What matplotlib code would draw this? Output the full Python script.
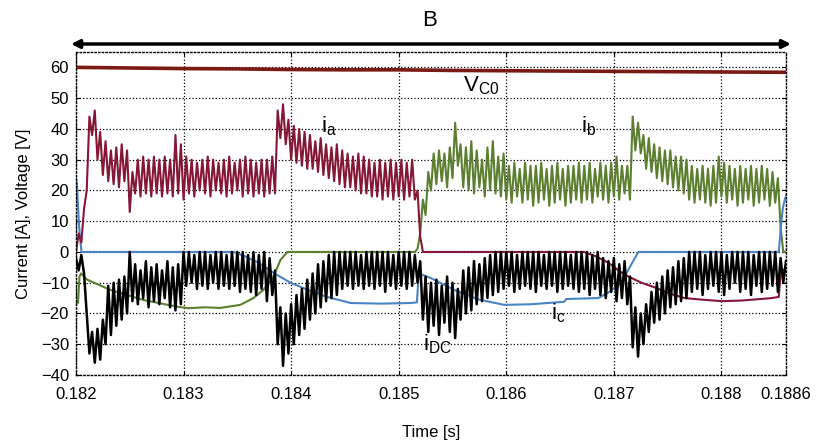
import numpy as np
import matplotlib.pyplot as plt

plt.rcParams['font.family'] = ['Liberation Sans', 'DejaVu Sans']
plt.rcParams['mathtext.fontset'] = 'custom'
plt.rcParams['mathtext.rm'] = 'Liberation Sans'
plt.rcParams['mathtext.it'] = 'Liberation Sans'

# sampled waveforms: one value every half switching period (25 us) from t0
t0 = 0.182
dt = 25e-6

# i_DC, samples k = 0..264
i_dc = [
    -2, -6, -1, -7, -20, -33, -26, -36, -25, -35, -22, -30, -11, -27, -10, -24, -9, -22, -8, -20,
    0, -16, -4, -17, -6, -15, -3, -18, -5, -16, -4, -17, -6, -15, -3, -18, -5, -19, -4, -17,
    0, -11, 0, -10, -1, -12, 0, -11, 0, -12, -1, -10, 0, -12, 0, -11, -1, -12, 0, -11,
    0, -13, 0, -12, -1, -13, 0, -14, -1, -12, 0, -16, -2, -14, -6, -30, -18, -37, -20, -33,
    -17, -30, -14, -27, -12, -25, -9, -22, -7, -20, -4, -18, -3, -16, -1, -15, 0, -14, 0, -12,
    0, -11, 0, -12, 0, -11, -1, -12, 0, -11, 0, -12, 0, -11, 0, -13, 0, -11, -1, -12,
    0, -11, 0, -12, 0, -11, -1, -10, -3, -22, -8, -26, -10, -24, -9, -27, -11, -23, -8, -26,
    -10, -28, -12, -22, -6, -20, -5, -19, -3, -17, -4, -16, -2, -15, -1, -14, 0, -13, 0, -12,
    0, -11, 0, -13, -1, -12, 0, -11, 0, -12, 0, -13, 0, -11, -1, -12, 0, -11, 0, -13,
    0, -12, 0, -11, -1, -12, 0, -13, 0, -12, 0, -14, -1, -12, 0, -14, -2, -15, -3, -13,
    -2, -16, -4, -15, -3, -17, -8, -31, -18, -34, -20, -30, -17, -26, -13, -23, -10, -22, -8, -20,
    -6, -18, -5, -17, -3, -16, -2, -15, 0, -13, 0, -12, 0, -14, -1, -12, 0, -11, 0, -13,
    0, -14, -1, -12, 0, -10, 0, -13, 0, -12, 0, -14, -1, -11, 0, -13, 0, -12, 0, -11,
    0, -13, -2, -10, -3,
]

# i_a ripple part, samples k = 0..129
i_a_ripple = [
    0, 6, 3, 14, 20, 44, 38, 46, 30, 39, 25, 36, 23, 33, 22, 34, 21, 35, 23, 33,
    13, 26, 19, 30, 18, 31, 19, 30, 18, 31, 19, 30, 18, 31, 19, 30, 18, 38, 19, 35,
    17, 31, 19, 30, 18, 29, 20, 30, 19, 31, 18, 30, 20, 29, 19, 30, 18, 31, 19, 29,
    20, 30, 18, 31, 19, 30, 18, 29, 19, 30, 18, 30, 19, 31, 19, 46, 37, 48, 35, 43,
    30, 41, 29, 40, 28, 39, 27, 38, 27, 36, 26, 37, 25, 35, 24, 34, 23, 35, 22, 33,
    21, 32, 21, 31, 20, 32, 19, 31, 19, 30, 18, 29, 18, 30, 17, 29, 18, 30, 17, 29,
    18, 30, 17, 29, 18, 30, 17, 20, 5, 0,
]

# i_a slow part after commutation
i_a_t = [0.185225, 0.186725, 0.186837, 0.186949, 0.187042, 0.187135, 0.187256, 0.187378,
         0.187517, 0.187657, 0.187815, 0.188002, 0.188188, 0.188328, 0.188468, 0.188533,
         0.188552, 0.188617]
i_a_v = [0, 0, -1.5, -3.5, -6, -8, -10, -11.5, -13.5, -15, -15.5, -16, -15.8, -15.4, -15,
         -14.6, -6, -5.5]

# i_b slow part before commutation
i_b_t = [0.182000, 0.182019, 0.182033, 0.182047, 0.182103, 0.182317, 0.182624, 0.182941,
         0.183044, 0.183202, 0.183342, 0.183528, 0.183650, 0.183743, 0.183836, 0.183901,
         0.183966, 0.185150]
i_b_v = [-17, -16.5, -8, -7, -9, -12.3, -15.6, -17.8, -18.3, -18, -18.2, -17.2, -15, -12.3,
         -8, -2.6, 0, 0]

# i_b ripple part, samples k = 126..264
k_b0 = 126
i_b_ripple = [
    0, 1, 6, 17, 12, 26, 20, 32, 22, 33, 23, 32, 21, 34, 24, 42, 28, 35, 21, 34,
    20, 36, 19, 33, 21, 30, 18, 34, 20, 36, 19, 31, 18, 32, 17, 28, 16, 29, 18, 27,
    16, 29, 17, 28, 15, 28, 16, 29, 17, 27, 15, 28, 16, 29, 17, 27, 15, 28, 16, 28,
    17, 29, 16, 28, 17, 29, 16, 27, 18, 29, 17, 28, 16, 29, 18, 31, 17, 28, 19, 28,
    17, 44, 33, 42, 32, 38, 27, 37, 26, 35, 24, 34, 23, 33, 22, 33, 21, 31, 20, 31,
    19, 30, 17, 28, 16, 27, 17, 28, 16, 27, 15, 28, 16, 31, 18, 29, 16, 28, 17, 27,
    15, 28, 16, 27, 17, 28, 15, 27, 16, 28, 17, 27, 15, 26, 16, 24, 8, 0, 0,
]

# i_c
i_c_t = [0.182000, 0.182009, 0.182019, 0.182028, 0.182037, 0.182051, 0.183463, 0.183575,
         0.183696, 0.183836, 0.183994, 0.184153, 0.184321, 0.184554, 0.184833, 0.185113,
         0.185169, 0.185187, 0.185299, 0.185513, 0.185747, 0.185980, 0.186231, 0.186539,
         0.186557, 0.186856, 0.186958, 0.187070, 0.187163, 0.187228, 0.188533, 0.188552,
         0.188570, 0.188589, 0.188617]
i_c_v = [24, 22, 15, 9, 5, 0, 0, -1.5, -3.5, -6.8, -10, -12.3, -14.5, -16.6, -16.8, -16.6,
         -16.4, -7, -8.5, -12.3, -15.5, -17.2, -17, -16.2, -15.3, -15, -13, -10, -4, 0, 0,
         8, 14, 17, 20]

# capacitor voltage
v_c0_t = [0.182, 0.1825, 0.183, 0.1835, 0.184, 0.1845, 0.185, 0.1855, 0.186, 0.1865,
          0.187, 0.1875, 0.188, 0.1886]
v_c0_v = [60.0, 59.8, 59.6, 59.5, 59.3, 59.2, 59.2, 59.0, 58.9, 58.8, 58.7, 58.6, 58.5, 58.4]

x_ticks = [0.182, 0.183, 0.184, 0.185, 0.186, 0.187, 0.188, 0.1886]
x_tick_labels = ['0.182', '0.183', '0.184', '0.185', '0.186', '0.187', '0.188', '0.1886']
y_ticks = [-40, -30, -20, -10, 0, 10, 20, 30, 40, 50, 60]

# build time bases
t_dc = t0 + dt * np.arange(len(i_dc))
t_a = np.concatenate([t0 + dt * np.arange(len(i_a_ripple)), i_a_t[1:]])
v_a = np.concatenate([i_a_ripple, i_a_v[1:]])
t_b = np.concatenate([i_b_t, t0 + dt * (k_b0 + np.arange(1, len(i_b_ripple)))])
v_b = np.concatenate([i_b_v, i_b_ripple[1:]])

fig = plt.figure(figsize=(8.23, 4.42), dpi=100)
ax = fig.add_axes([0.0923, 0.1516, 0.8627, 0.7308])

ax.plot(v_c0_t, v_c0_v, color='#7a1a14', lw=2.6)
ax.plot(t_b, v_b, color='#5b7f2f', lw=1.5)
ax.plot(i_c_t, i_c_v, color='#4a84c6', lw=1.5)
ax.plot(t_a, v_a, color='#861636', lw=1.5)
ax.plot(t_dc, i_dc, color='black', lw=1.8)

# curve labels
ax.text(0.185600, 54, r'$\mathregular{V_{C0}}$', fontsize=16, va='center')
ax.text(0.184274, 41, r'$\mathregular{i_a}$', fontsize=16, va='center')
ax.text(0.186697, 41, r'$\mathregular{i_b}$', fontsize=16, va='center')
ax.text(0.186417, -20, r'$\mathregular{i_c}$', fontsize=16, va='center')
ax.text(0.185225, -30, r'$\mathregular{i_{DC}}$', fontsize=16, va='center')

ax.set_xlim(0.182, 0.1886)
ax.set_ylim(-40, 65)
ax.set_xticks(x_ticks)
ax.set_xticklabels(x_tick_labels)
ax.set_yticks(y_ticks)
ax.grid(True, color='black', linestyle=':', linewidth=0.9)
ax.tick_params(direction='in', length=3, top=True, right=True, labelsize=12)
ax.tick_params(axis='x', pad=9)
ax.tick_params(axis='y', pad=5)
for s in ax.spines.values():
    s.set_linestyle(':')
    s.set_linewidth(1.0)

ax.set_xlabel('Time [s]', fontsize=12, labelpad=16)
ax.set_ylabel('Current [A], Voltage [V]', fontsize=12, labelpad=7)

# interval marker above the plot
ax.annotate('', xy=(791 / 823, 1 - 44 / 442), xytext=(71 / 823, 1 - 44 / 442),
            xycoords='figure fraction', textcoords='figure fraction',
            arrowprops=dict(arrowstyle='<|-|>', lw=2.5, color='black', mutation_scale=12,
                            shrinkA=0, shrinkB=0))
fig.text(430 / 823, 1 - 20 / 442, 'B', fontsize=16, ha='center', va='center')

fig.savefig('out.png', dpi=100)
